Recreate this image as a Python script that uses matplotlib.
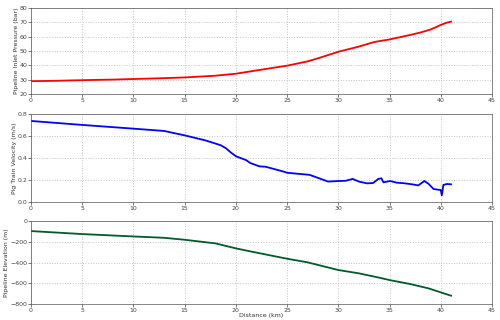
import numpy as np
import matplotlib
matplotlib.use("Agg")
import matplotlib.pyplot as plt

# pressure profile (bar) vs distance (km)
p_km = [0, 2, 5, 8, 10, 13, 15, 18, 20, 21.4, 23, 25, 27, 28, 29, 30, 32, 33.5, 35, 37, 38, 39, 40, 40.5, 41]
p_bar = [29, 29.2, 29.7, 30.1, 30.5, 31.1, 31.6, 32.8, 34.2, 35.8, 37.6, 39.8, 42.8, 44.9, 47.2, 49.5, 53.1, 56.3, 58.1, 61.2, 62.9, 65.0, 68.2, 69.6, 70.5]

# pig train velocity (m/s)
v_km = [0, 5, 10, 13, 15, 17, 18.5, 19, 19.5, 20, 21, 21.4, 22.3, 22.9, 24.6, 25, 27.2, 29, 30, 30.7, 31.4,
        32, 32.8, 33.4, 33.9, 34.2, 34.4, 35.05, 35.7, 36.4, 37.2, 37.8, 38.4, 38.8, 39.3, 40, 40.1, 40.25, 40.6, 41]
v_ms = [0.736, 0.70, 0.666, 0.645, 0.605, 0.56, 0.516, 0.49, 0.45, 0.415, 0.38, 0.354, 0.323, 0.32, 0.277, 0.265, 0.246, 0.185, 0.19, 0.192, 0.209,
        0.185, 0.169, 0.172, 0.209, 0.215, 0.178, 0.19, 0.175, 0.17, 0.16, 0.15, 0.19, 0.165, 0.117, 0.108, 0.06, 0.154, 0.163, 0.16]

# pipeline elevation (m)
e_km = [0, 5, 10, 13, 15, 18, 20, 21.4, 25, 27, 30, 32, 34, 35, 37, 38.8, 41]
e_m = [-96, -125, -148, -161, -180, -215, -263, -292, -363, -398, -472, -504, -546, -569, -607, -649, -720]

plt.rcParams['font.family'] = ['DejaVu Sans']
fig = plt.figure(figsize=(5, 3.2), dpi=100)

panels = [
    (p_km, p_bar, 'red', 'Pipeline Inlet Pressure (bar)', (20, 80), [20, 30, 40, 50, 60, 70, 80], [0.062, 0.706, 0.922, 0.269]),
    (v_km, v_ms, 'blue', 'Pig Train Velocity (m/s)', (0, 0.8), [0, 0.2, 0.4, 0.6, 0.8], [0.062, 0.369, 0.922, 0.275]),
    (e_km, e_m, '#005a2a', 'Pipeline Elevation (m)', (-800, 0), [-800, -600, -400, -200, 0], [0.062, 0.05, 0.922, 0.259]),
]

for i, (x, y, col, lab, ylim, yt, pos) in enumerate(panels):
    ax = fig.add_axes(pos)
    ax.plot(x, y, color=col, lw=1.3)
    ax.set_xlim(0, 45)
    ax.set_ylim(*ylim)
    ax.set_xticks(range(0, 46, 5))
    ax.set_yticks(yt)
    ax.grid(True, linestyle=':', color='#c4c4c4', lw=0.7)
    ax.tick_params(labelsize=4.5, length=2, width=0.5, pad=0.8, colors='#444444')
    ax.set_ylabel(lab, fontsize=4.5, labelpad=0.5, color='#333333')
    for s in ax.spines.values():
        s.set_linewidth(0.5)
        s.set_color('#555555')
    if i == 2:
        ax.set_xlabel('Distance (km)', fontsize=4.5, labelpad=0, color='#333333')

fig.savefig('out.png', dpi=100)
